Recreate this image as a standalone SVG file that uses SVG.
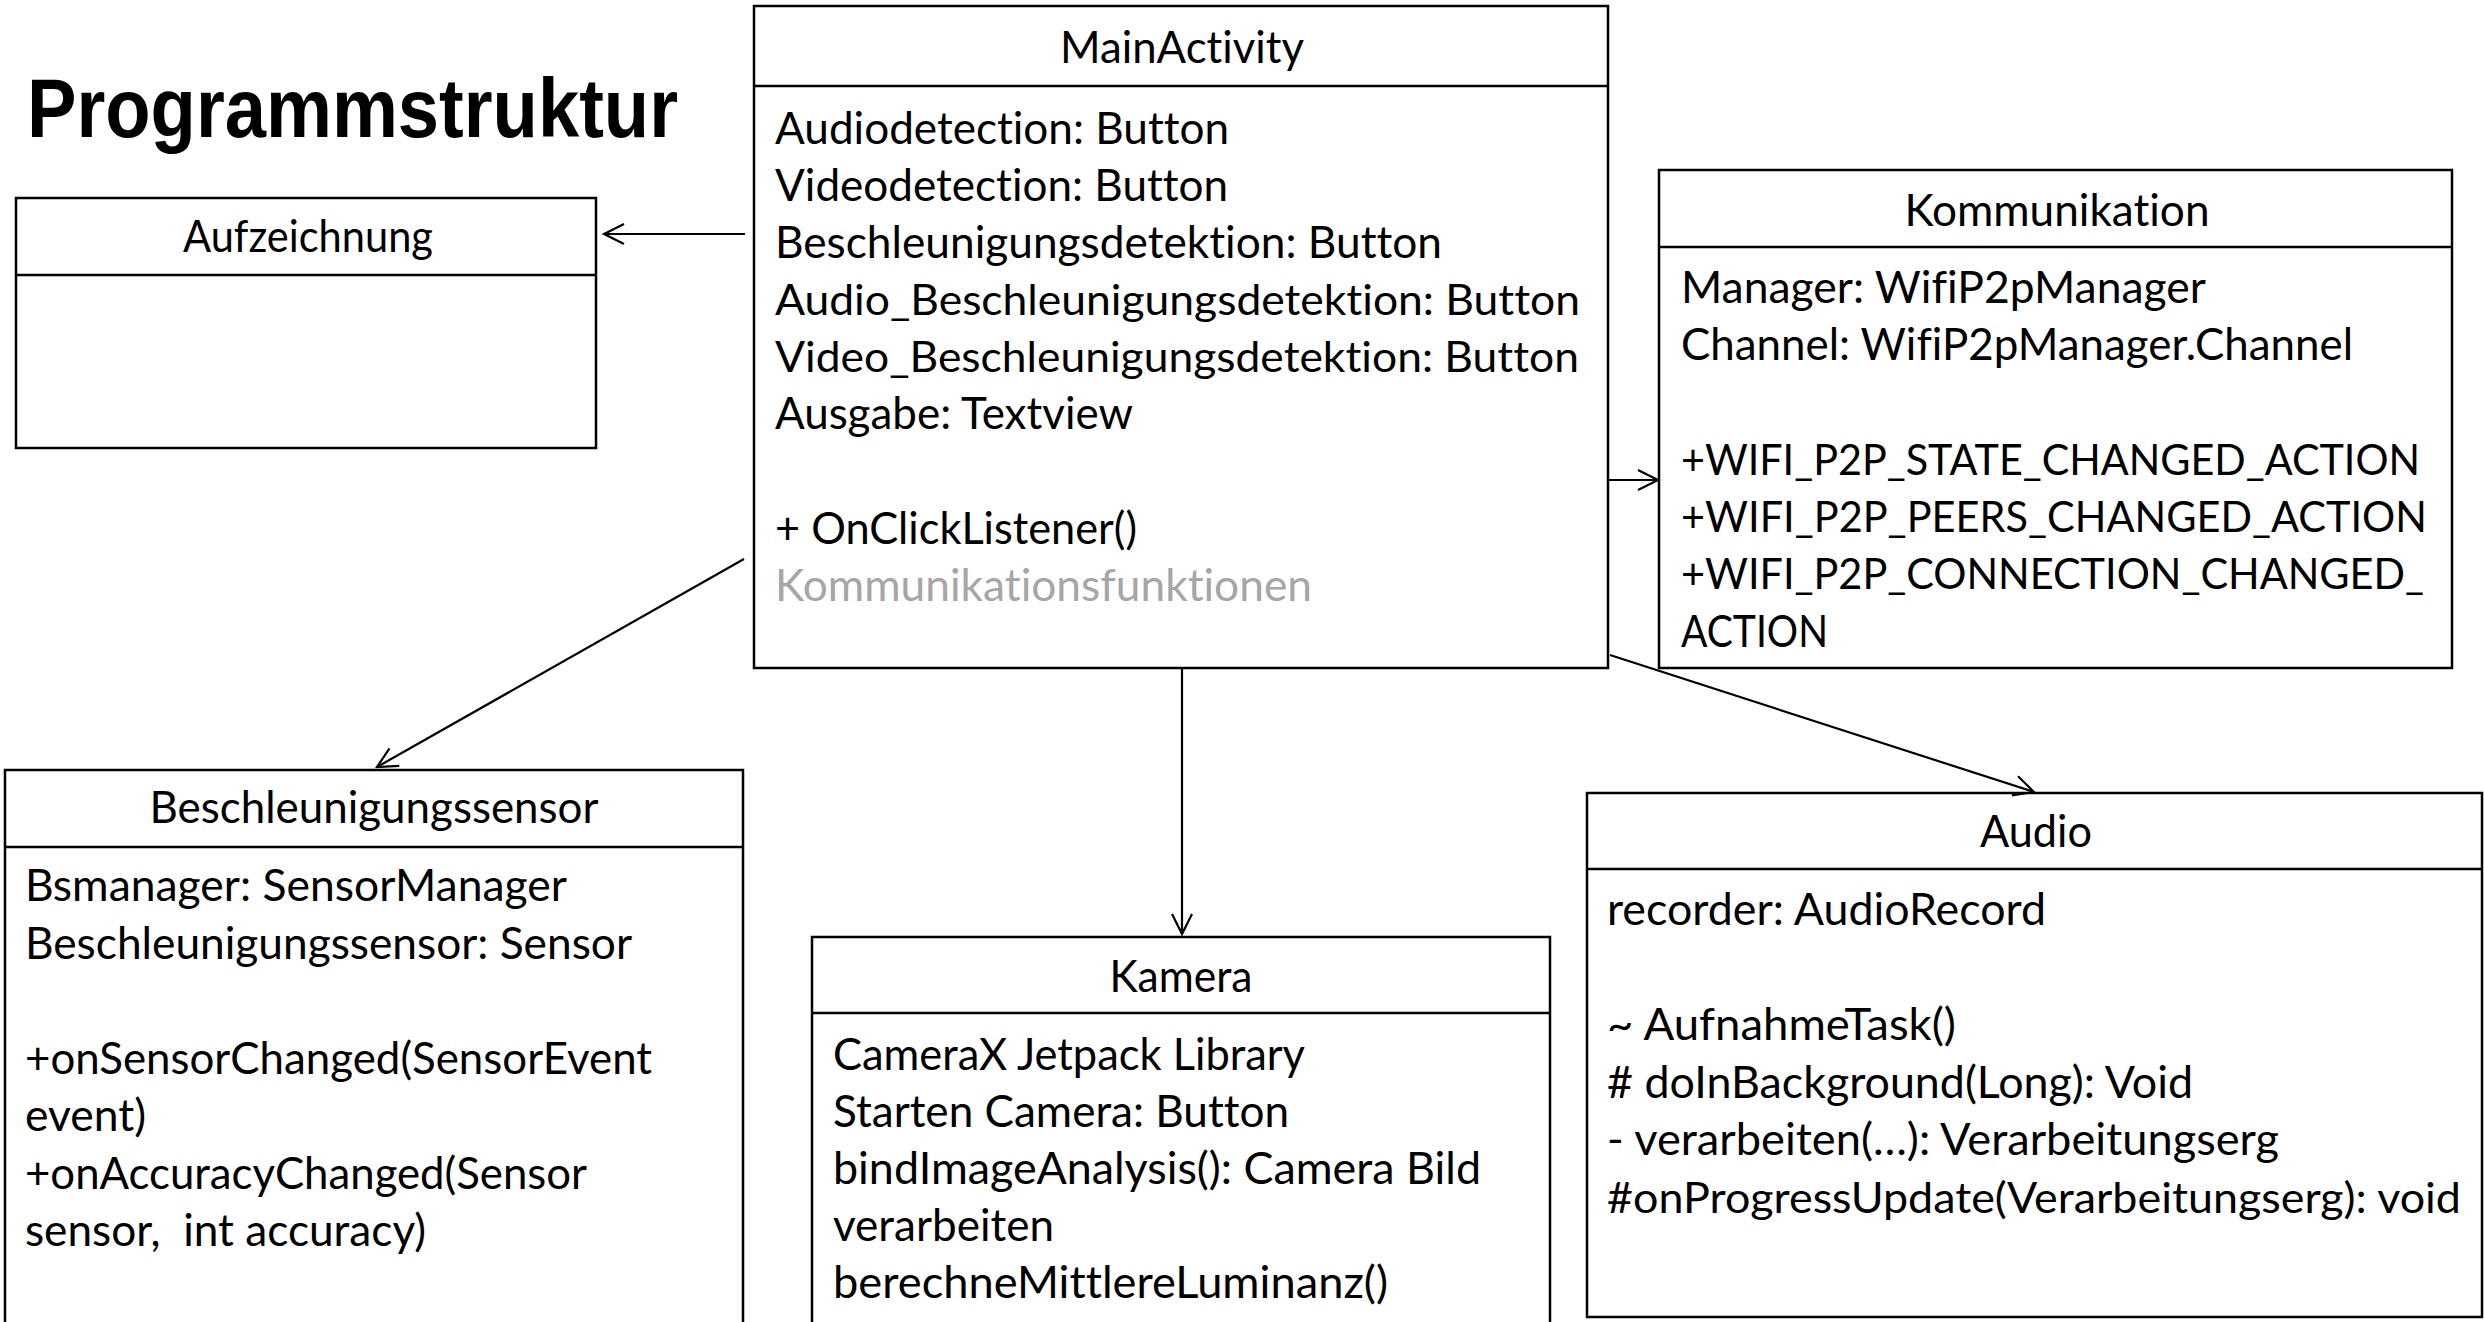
<svg xmlns="http://www.w3.org/2000/svg" width="2484" height="1322" viewBox="0 0 2484 1322">
<defs>
<style>
.box{fill:#fff;stroke:#000;stroke-width:2.5}
.ln{stroke:#000;stroke-width:2.5;fill:none}
.t{font-family:Lato,"Open Sans","Liberation Sans",sans-serif;font-size:45px;fill:#000;font-variant-ligatures:none;font-feature-settings:"liga" 0,"clig" 0}
.s{font-size:42px}
.c{text-anchor:middle}
.g{fill:#a6a6a6}
.edge{stroke:#000;stroke-width:2.2;fill:none;marker-end:url(#arr)}
.title{font-family:"Liberation Sans",Arial,sans-serif;font-weight:bold;font-size:84px;fill:#000}
</style>
<marker id="arr" markerUnits="userSpaceOnUse" markerWidth="26" markerHeight="26" refX="21" refY="11" orient="auto" viewBox="0 0 26 22">
<path d="M1,1 L21,11 L1,21" fill="none" stroke="#000" stroke-width="2.2"/>
</marker>
</defs>
<rect width="2484" height="1322" fill="#fff"/>
<text class="title" x="27" y="137" textLength="651" lengthAdjust="spacingAndGlyphs">Programmstruktur</text>

<g id="Aufzeichnung">
<rect class="box" x="16" y="198" width="580" height="250"/>
<line class="ln" x1="16" y1="275" x2="596" y2="275"/>
<text class="t c" x="308" y="252" textLength="250" lengthAdjust="spacingAndGlyphs">Aufzeichnung</text>
</g>

<g id="MainActivity">
<rect class="box" x="754" y="6" width="854" height="662"/>
<line class="ln" x1="754" y1="86" x2="1608" y2="86"/>
<text class="t c" x="1182" y="63" textLength="244" lengthAdjust="spacingAndGlyphs">MainActivity</text>
<text class="t" x="775" y="144" textLength="454" lengthAdjust="spacingAndGlyphs">Audiodetection: Button</text>
<text class="t" x="775" y="201" textLength="453" lengthAdjust="spacingAndGlyphs">Videodetection: Button</text>
<text class="t" x="775" y="258" textLength="667" lengthAdjust="spacingAndGlyphs">Beschleunigungsdetektion: Button</text>
<text class="t s" x="775" y="315" textLength="805" lengthAdjust="spacingAndGlyphs">Audio_Beschleunigungsdetektion: Button</text>
<text class="t s" x="775" y="372" textLength="804" lengthAdjust="spacingAndGlyphs">Video_Beschleunigungsdetektion: Button</text>
<text class="t" x="775" y="429" textLength="358" lengthAdjust="spacingAndGlyphs">Ausgabe: Textview</text>
<text class="t" x="775" y="544" textLength="362" lengthAdjust="spacingAndGlyphs">+ OnClickListener()</text>
<text class="t g" x="775" y="601" textLength="537" lengthAdjust="spacingAndGlyphs">Kommunikationsfunktionen</text>
</g>

<g id="Kommunikation">
<rect class="box" x="1659" y="170" width="793" height="498"/>
<line class="ln" x1="1659" y1="247" x2="2452" y2="247"/>
<text class="t c" x="2057" y="226" textLength="305" lengthAdjust="spacingAndGlyphs">Kommunikation</text>
<text class="t" x="1681" y="303" textLength="525" lengthAdjust="spacingAndGlyphs">Manager: WifiP2pManager</text>
<text class="t" x="1681" y="360" textLength="672" lengthAdjust="spacingAndGlyphs">Channel: WifiP2pManager.Channel</text>
<text class="t s" x="1681" y="474.5" textLength="739" lengthAdjust="spacingAndGlyphs">+WIFI_P2P_STATE_CHANGED_ACTION</text>
<text class="t s" x="1681" y="532" textLength="746" lengthAdjust="spacingAndGlyphs">+WIFI_P2P_PEERS_CHANGED_ACTION</text>
<text class="t s" x="1681" y="589" textLength="743" lengthAdjust="spacingAndGlyphs">+WIFI_P2P_CONNECTION_CHANGED_</text>
<text class="t" x="1681" y="646.5" textLength="147" lengthAdjust="spacingAndGlyphs">ACTION</text>
</g>

<g id="Beschleunigungssensor">
<rect class="box" x="5" y="770" width="738" height="580"/>
<line class="ln" x1="5" y1="847" x2="743" y2="847"/>
<text class="t c" x="374" y="823" textLength="449" lengthAdjust="spacingAndGlyphs">Beschleunigungssensor</text>
<text class="t" x="25" y="901" textLength="542" lengthAdjust="spacingAndGlyphs">Bsmanager: SensorManager</text>
<text class="t" x="25" y="958.5" textLength="607" lengthAdjust="spacingAndGlyphs">Beschleunigungssensor: Sensor</text>
<text class="t" x="25" y="1073.5" textLength="627" lengthAdjust="spacingAndGlyphs">+onSensorChanged(SensorEvent</text>
<text class="t" x="25" y="1131" textLength="121" lengthAdjust="spacingAndGlyphs">event)</text>
<text class="t" x="25" y="1188.5" textLength="562" lengthAdjust="spacingAndGlyphs">+onAccuracyChanged(Sensor</text>
<text class="t" x="25" y="1246" textLength="401" lengthAdjust="spacingAndGlyphs" xml:space="preserve">sensor,  int accuracy)</text>
</g>

<g id="Kamera">
<rect class="box" x="812" y="937" width="738" height="420"/>
<line class="ln" x1="812" y1="1013" x2="1550" y2="1013"/>
<text class="t c" x="1181" y="992" textLength="143" lengthAdjust="spacingAndGlyphs">Kamera</text>
<text class="t" x="833" y="1070" textLength="472" lengthAdjust="spacingAndGlyphs">CameraX Jetpack Library</text>
<text class="t" x="833" y="1127" textLength="456" lengthAdjust="spacingAndGlyphs">Starten Camera: Button</text>
<text class="t" x="833" y="1184" textLength="648" lengthAdjust="spacingAndGlyphs">bindImageAnalysis(): Camera Bild</text>
<text class="t" x="833" y="1241" textLength="221" lengthAdjust="spacingAndGlyphs">verarbeiten</text>
<text class="t" x="833" y="1298" textLength="555" lengthAdjust="spacingAndGlyphs">berechneMittlereLuminanz()</text>
</g>

<g id="Audio">
<rect class="box" x="1587" y="793" width="895" height="524"/>
<line class="ln" x1="1587" y1="869" x2="2482" y2="869"/>
<text class="t c" x="2036" y="847" textLength="112" lengthAdjust="spacingAndGlyphs">Audio</text>
<text class="t" x="1607" y="925" textLength="439" lengthAdjust="spacingAndGlyphs">recorder: AudioRecord</text>
<text class="t" x="1607" y="1040" textLength="349" lengthAdjust="spacingAndGlyphs">~ AufnahmeTask()</text>
<text class="t" x="1607" y="1097.5" textLength="586" lengthAdjust="spacingAndGlyphs">#  doInBackground(Long): Void</text>
<text class="t" x="1607" y="1155" textLength="672" lengthAdjust="spacingAndGlyphs">- verarbeiten(…): Verarbeitungserg</text>
<text class="t s" x="1607" y="1212.5" textLength="854" lengthAdjust="spacingAndGlyphs">#onProgressUpdate(Verarbeitungserg): void</text>
</g>

<g id="connectors">
<line class="edge" x1="745" y1="234" x2="604" y2="234"/>
<line class="edge" x1="1608" y1="480" x2="1658" y2="480"/>
<line class="edge" x1="744" y1="559" x2="377" y2="767"/>
<line class="edge" x1="1182" y1="667" x2="1182" y2="934"/>
<line class="edge" x1="1610" y1="655" x2="2034" y2="792"/>
</g>
</svg>
